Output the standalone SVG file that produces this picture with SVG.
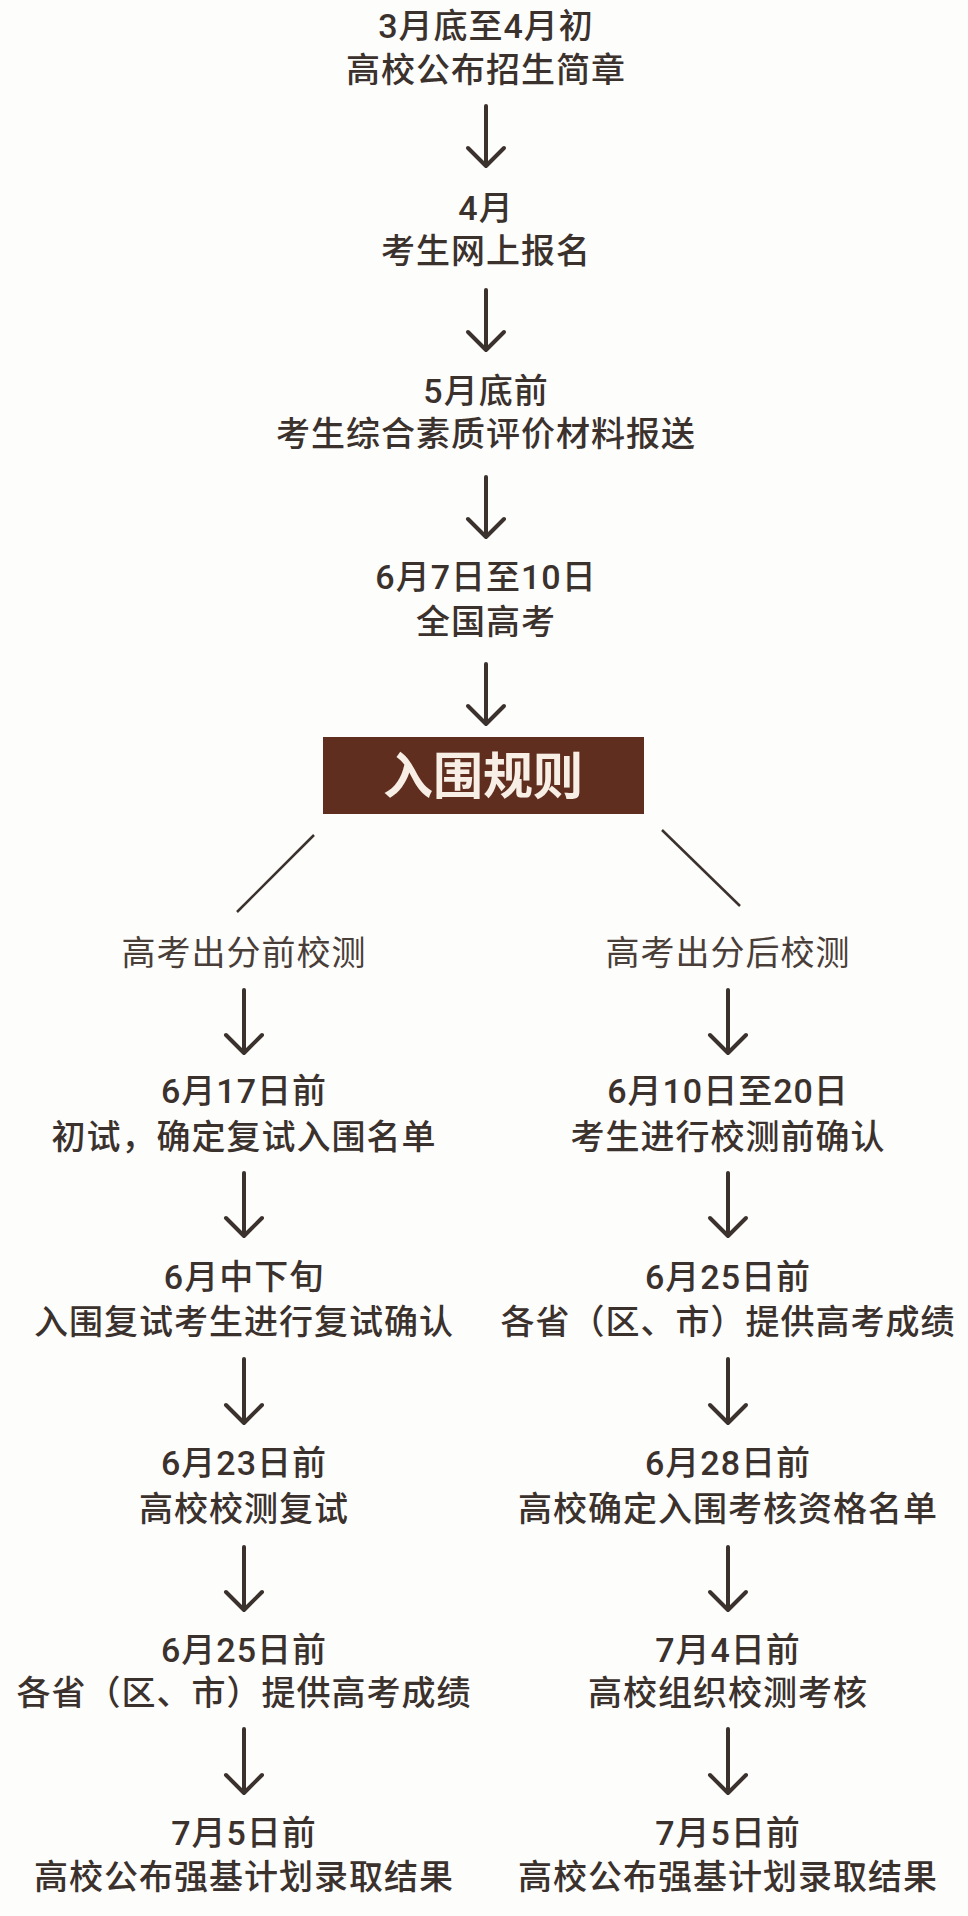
<svg xmlns="http://www.w3.org/2000/svg" width="968" height="1916" viewBox="0 0 968 1916">
<defs>
<style>
.t{font-family:"Roboto","Noto Sans CJK SC","Noto Sans",sans-serif;font-size:34px;font-weight:500;fill:#3b312d;text-anchor:middle;letter-spacing:1px}
.h{font-weight:400;fill:#4a3e39}
.arr{stroke:#3b312d;stroke-width:4;fill:none;stroke-linecap:round;stroke-linejoin:round}
.dg{stroke:#3b312d;stroke-width:2.5;fill:none}
</style>
</defs>
<rect width="968" height="1916" fill="#fdfdfc"/>
<g id="n1"><text class="t" x="486" y="38">3月底至4月初</text><text class="t" x="486" y="82">高校公布招生简章</text></g>
<g id="n2"><text class="t" x="486" y="220">4月</text><text class="t" x="486" y="263">考生网上报名</text></g>
<g id="n3"><text class="t" x="486" y="403">5月底前</text><text class="t" x="486" y="446">考生综合素质评价材料报送</text></g>
<g id="n4"><text class="t" x="486" y="589">6月7日至10日</text><text class="t" x="486" y="634">全国高考</text></g>
<g id="rule"><rect x="323" y="737" width="321" height="77" fill="#5f2e1f"/><text x="483" y="794" font-family="Noto Sans CJK SC,sans-serif" font-size="50" font-weight="700" fill="#f7efe6" text-anchor="middle">入围规则</text></g>
<g id="L0"><text class="t h" x="244" y="965">高考出分前校测</text></g>
<g id="L1"><text class="t" x="244" y="1103">6月17日前</text><text class="t" x="244" y="1149">初试，确定复试入围名单</text></g>
<g id="L2"><text class="t" x="244" y="1289">6月中下旬</text><text class="t" x="244" y="1334">入围复试考生进行复试确认</text></g>
<g id="L3"><text class="t" x="244" y="1475">6月23日前</text><text class="t" x="244" y="1521">高校校测复试</text></g>
<g id="L4"><text class="t" x="244" y="1662">6月25日前</text><text class="t" x="244" y="1705">各省（区、市）提供高考成绩</text></g>
<g id="L5"><text class="t" x="244" y="1845">7月5日前</text><text class="t" x="244" y="1889">高校公布强基计划录取结果</text></g>
<g id="R0"><text class="t h" x="728" y="965">高考出分后校测</text></g>
<g id="R1"><text class="t" x="728" y="1103">6月10日至20日</text><text class="t" x="728" y="1149">考生进行校测前确认</text></g>
<g id="R2"><text class="t" x="728" y="1289">6月25日前</text><text class="t" x="728" y="1334">各省（区、市）提供高考成绩</text></g>
<g id="R3"><text class="t" x="728" y="1475">6月28日前</text><text class="t" x="728" y="1521">高校确定入围考核资格名单</text></g>
<g id="R4"><text class="t" x="728" y="1662">7月4日前</text><text class="t" x="728" y="1705">高校组织校测考核</text></g>
<g id="R5"><text class="t" x="728" y="1845">7月5日前</text><text class="t" x="728" y="1889">高校公布强基计划录取结果</text></g>
<g id="connectors">
<path class="arr" d="M486 106V166M468 148L486 166L504 148"/>
<path class="arr" d="M486 290V350M468 332L486 350L504 332"/>
<path class="arr" d="M486 477V537M468 519L486 537L504 519"/>
<path class="arr" d="M486 664V724M468 706L486 724L504 706"/>
<path class="dg" d="M314 835L237 912"/>
<path class="dg" d="M662 830L740 906"/>
<path class="arr" d="M244 990V1053M226 1035L244 1053L262 1035"/>
<path class="arr" d="M244 1173V1236M226 1218L244 1236L262 1218"/>
<path class="arr" d="M244 1359V1423M226 1405L244 1423L262 1405"/>
<path class="arr" d="M244 1547V1610M226 1592L244 1610L262 1592"/>
<path class="arr" d="M244 1729V1793M226 1775L244 1793L262 1775"/>
<path class="arr" d="M728 990V1053M710 1035L728 1053L746 1035"/>
<path class="arr" d="M728 1173V1236M710 1218L728 1236L746 1218"/>
<path class="arr" d="M728 1359V1423M710 1405L728 1423L746 1405"/>
<path class="arr" d="M728 1547V1610M710 1592L728 1610L746 1592"/>
<path class="arr" d="M728 1729V1793M710 1775L728 1793L746 1775"/>
</g>
</svg>
